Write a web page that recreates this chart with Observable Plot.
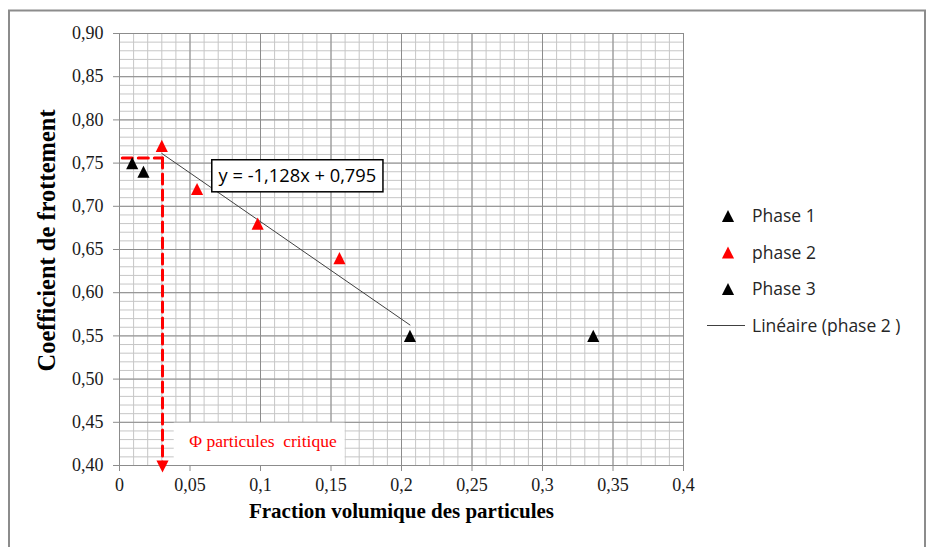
<!DOCTYPE html>
<html><head><meta charset="utf-8">
<script src="https://cdn.jsdelivr.net/npm/d3@7"></script>
<script src="https://cdn.jsdelivr.net/npm/@observablehq/plot@0.6"></script>
<style>
body{margin:0;background:#fff}
#chart{position:relative;width:930px;height:547px}
</style>
</head><body><div id="chart"></div>
<script>
// ---- data ----
const phase1X = [0.009, 0.017];
const phase1Y = [0.75, 0.74];
const phase2X = [0.030, 0.055, 0.098, 0.156];
const phase2Y = [0.77, 0.72, 0.68, 0.64];
const phase3X = [0.206, 0.336];
const phase3Y = [0.55, 0.55];
const trendSlope = -1.128, trendIntercept = 0.795;
const trendX = [0.03, 0.206];
const xTicks = [0, 0.05, 0.1, 0.15, 0.2, 0.25, 0.3, 0.35, 0.4];
const yTicks = [0.40, 0.45, 0.50, 0.55, 0.60, 0.65, 0.70, 0.75, 0.80, 0.85, 0.90];
const legendLabels = ["Phase 1", "phase 2", "Phase 3", "Linéaire (phase 2 )"];
const legendColors = ["#000000", "#ff0000", "#000000", "#404040"];
const xTitle = "Fraction volumique des particules";
const yTitle = "Coefficient de frottement";
const equationLabel = "y = -1,128x + 0,795";
const criticalLabel = "Φ particules  critique";
const criticalPhi = 0.0305, criticalMu = 0.756, criticalStartX = 0.002;
const criticalArrowY = 0.3988, criticalLineEndY = 0.403;
const eqBox = {x1: 0.0658, x2: 0.1872, y1: 0.7162, y2: 0.7533, tx: 0.0703, ty: 0.7345};
const critBox = {x1: 0.0388, x2: 0.160, y1: 0.40, y2: 0.449, tx: 0.0495, ty: 0.428};

// ---- helpers ----
const SERIF = "'Liberation Serif', 'Times New Roman', serif";
const SANS = "'Open Sans', sans-serif";
const toPts = (xs, ys) => xs.map((x, i) => ({x, y: ys[i]}));
const trendPts = trendX.map(x => ({x, y: trendSlope * x + trendIntercept}));
const minorX = d3.range(0, 41).map(i => i / 100);
const minorY = d3.range(40, 91).map(i => i / 100);
const tri = {draw(ctx, size) { const r = Math.sqrt(size / Math.PI) * 1.35;
  ctx.moveTo(0, -r); ctx.lineTo(r, r); ctx.lineTo(-r, r); ctx.closePath(); }};
const fmtX = d => d3.format("~g")(d).replace(".", ",");
const fmtY = d => d.toFixed(2).replace(".", ",");

const plot = Plot.plot({
  width: 930, height: 547,
  marginLeft: 119, marginRight: 247, marginTop: 33, marginBottom: 82,
  x: {domain: [0, 0.4]},
  y: {domain: [0.4, 0.9]},
  style: {fontFamily: SERIF, fontSize: "18px", color: "#1a1a1a", background: "#fff", overflow: "visible"},
  marks: [
    Plot.ruleX(minorX, {stroke: "#c6c6c6", strokeWidth: 1}),
    Plot.ruleY(minorY, {stroke: "#c6c6c6", strokeWidth: 1}),
    Plot.ruleX(xTicks, {stroke: "#8c8c8c", strokeWidth: 1}),
    Plot.ruleY(yTicks, {stroke: "#8c8c8c", strokeWidth: 1}),
    Plot.axisX({ticks: xTicks, tickFormat: fmtX, tickSize: 6, tickPadding: 7, stroke: "#8c8c8c", label: null, fontSize: 18, fontFamily: SERIF}),
    Plot.axisY({ticks: yTicks, tickFormat: fmtY, tickSize: 6, tickPadding: 10, stroke: "#8c8c8c", label: null, fontSize: 18, fontFamily: SERIF}),
    // critical label box
    Plot.rect([critBox], {x1: "x1", x2: "x2", y1: "y1", y2: "y2", fill: "#fff"}),
    Plot.text([criticalLabel], {x: critBox.tx, y: critBox.ty, textAnchor: "start", fill: "#ff0000", fontSize: 17.5, fontFamily: SERIF}),
    // dashed critical lines
    Plot.line([{x: criticalStartX, y: criticalMu}, {x: criticalPhi, y: criticalMu}], {x: "x", y: "y", stroke: "#ff0000", strokeWidth: 3, strokeDasharray: "10,6"}),
    Plot.line([{x: criticalPhi, y: criticalMu}, {x: criticalPhi, y: criticalLineEndY}], {x: "x", y: "y", stroke: "#ff0000", strokeWidth: 3, strokeDasharray: "10,6"}),
    Plot.dot([{x: criticalPhi, y: criticalArrowY}], {x: "x", y: "y", symbol: tri, r: 4.5, fill: "#ff0000", rotate: 180}),
    // trend line
    Plot.line(trendPts, {x: "x", y: "y", stroke: "#404040", strokeWidth: 1}),
    // equation box
    Plot.rect([eqBox], {x1: "x1", x2: "x2", y1: "y1", y2: "y2", fill: "#fff", stroke: "#000", strokeWidth: 1.5}),
    Plot.text([equationLabel], {x: eqBox.tx, y: eqBox.ty, textAnchor: "start", fill: "#000", fontSize: 18.3, fontFamily: SANS}),
    // points
    Plot.dot(toPts(phase1X, phase1Y), {x: "x", y: "y", symbol: tri, r: 4.5, fill: "#000"}),
    Plot.dot(toPts(phase2X, phase2Y), {x: "x", y: "y", symbol: tri, r: 4.5, fill: "#ff0000"}),
    Plot.dot(toPts(phase3X, phase3Y), {x: "x", y: "y", symbol: tri, r: 4.5, fill: "#000"}),
    // titles
    Plot.text([xTitle], {frameAnchor: "bottom", textAnchor: "middle", dy: 52, fontWeight: "bold", fontSize: 21, fill: "#000", fontFamily: SERIF}),
    Plot.text([yTitle], {frameAnchor: "left", textAnchor: "middle", dx: -72, dy: -9, rotate: -90, fontWeight: "bold", fontSize: 24.5, fill: "#000", fontFamily: SERIF})
  ]
});
document.getElementById("chart").appendChild(plot);

// frame + legend
const svg = d3.select(plot);
svg.insert("rect", ":first-child").attr("x", 9).attr("y", 10.5).attr("width", 916).attr("height", 600)
  .attr("fill", "none").attr("stroke", "#8c8c8c").attr("stroke-width", 2);
const lg = svg.append("g").attr("font-family", SANS).attr("font-size", 17.5).attr("fill", "#262626").attr("text-anchor", "start");
legendLabels.forEach((lab, i) => {
  const y = 216 + i * 36.5;
  if (i < 3) {
    lg.append("path").attr("d", d3.symbol(tri, Math.PI * 4.5 * 4.5)()).attr("transform", `translate(728,${y})`).attr("fill", legendColors[i]);
  } else {
    lg.append("line").attr("x1", 707).attr("x2", 745).attr("y1", y).attr("y2", y).attr("stroke", legendColors[i]).attr("stroke-width", 1);
  }
  lg.append("text").attr("x", 752).attr("y", y).attr("dy", "0.35em").attr("text-anchor", "start").text(lab);
});
</script>
</body></html>
